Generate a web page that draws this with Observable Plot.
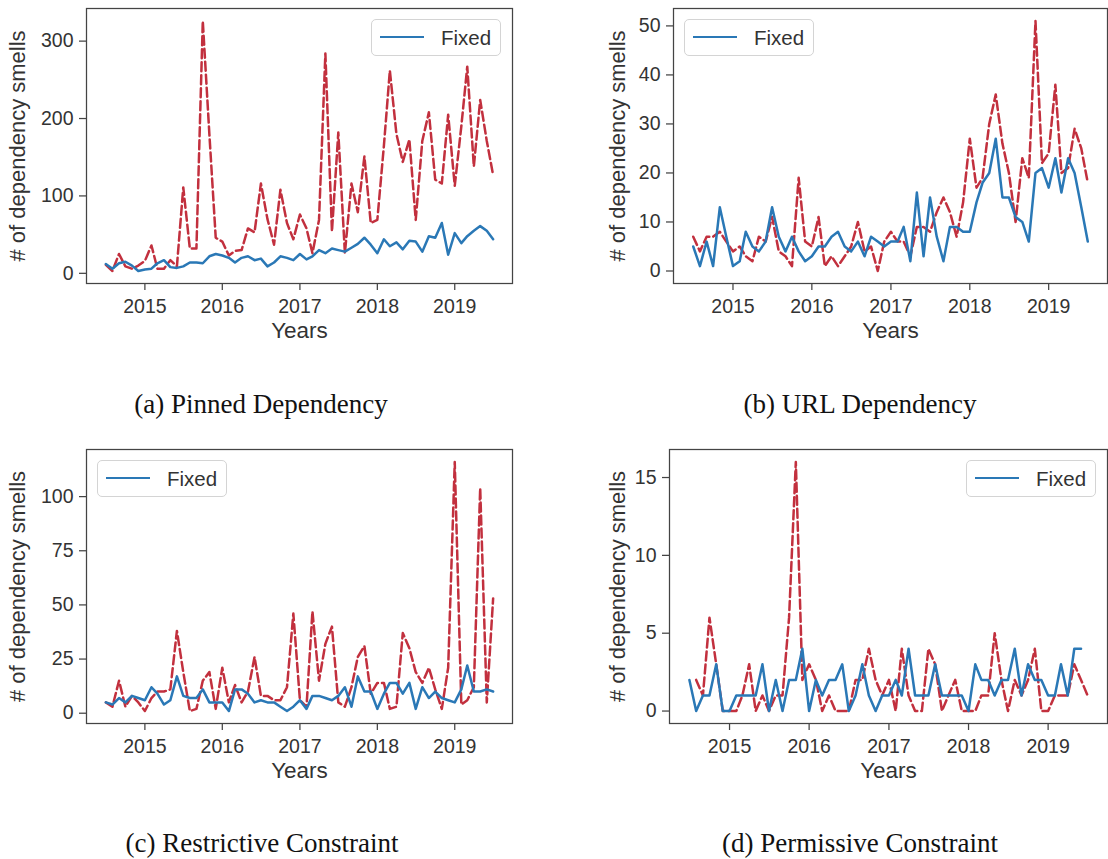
<!DOCTYPE html>
<html>
<head>
<meta charset="utf-8">
<script src="https://cdn.jsdelivr.net/npm/d3@7"></script>
<script src="https://cdn.jsdelivr.net/npm/@observablehq/plot@0.6"></script>
<style>
  body { margin: 0; background: #fff; }
  #fig { position: relative; width: 1108px; height: 859px; overflow: hidden; background: #fff;
         font-family: "Liberation Sans", Arial, sans-serif; }
  .panel { position: absolute; }
  .caption { position: absolute; font-family: "Liberation Serif", "Times New Roman", serif;
             font-size: 27px; color: #111; white-space: nowrap; transform: translate(-50%, -50%); }
  .legend { position: absolute; box-sizing: border-box; width: 130px; height: 37px;
            border: 1px solid #d4d4d4; border-radius: 5px; background: rgba(255,255,255,0.85); }
  .legend .swatch { position: absolute; left: 8px; top: 16px; width: 44px; height: 0;
                    border-top: 2.5px solid #2a78b6; }
  .legend .label { position: absolute; left: 69px; top: 0; line-height: 35px; font-size: 20.5px; color: #333; }
</style>
</head>
<body>
<div id="fig"></div>
<script>
// Monthly counts, July 2014 .. July 2019 (61 months)
const pinnedFixed = [12, 6, 13, 15, 10, 3, 5, 6, 13, 17, 8, 7, 9, 14, 14, 13, 22, 25, 23, 20, 14, 20, 22, 17, 19, 9,
  14, 22, 20, 17, 25, 18, 22, 30, 26, 32, 30, 28, 33, 38, 46, 37, 26, 44, 35, 40, 31, 42, 41, 28, 48, 46, 65, 24,
  52, 39, 48, 55, 61, 55, 44];
const pinnedDetected = [11, 3, 25, 9, 6, 10, 16, 36, 6, 6, 17, 9, 111, 32, 32, 326, 180, 46, 41, 23, 29, 30, 58, 53,
  116, 70, 37, 108, 65, 44, 76, 58, 26, 69, 284, 54, 182, 26, 116, 79, 151, 65, 69, 165, 262, 180, 144, 173, 69,
  171, 208, 121, 116, 205, 113, 190, 267, 138, 224, 171, 127];

const urlFixed = [5, 1, 6, 1, 13, 7, 1, 2, 8, 5, 4, 6, 13, 7, 4, 7, 4, 2, 3, 5, 5, 7, 8, 5, 4, 6, 3, 7, 6, 5, 6, 6,
  9, 2, 16, 3, 15, 7, 2, 9, 9, 8, 8, 14, 18, 20, 27, 15, 15, 11, 10, 6, 20, 21, 17, 23, 16, 23, 20, 13, 6];
const urlDetected = [7, 4, 7, 7, 8, 6, 4, 5, 3, 2, 7, 6, 11, 4, 3, 1, 19, 6, 5, 11, 1, 3, 1, 3, 5, 10, 4, 5, 0, 6,
  8, 6, 6, 3, 9, 9, 8, 12, 15, 12, 7, 14, 27, 17, 19, 30, 36, 26, 20, 10, 23, 19, 51, 22, 24, 38, 20, 21, 29, 25, 18];

const restrictiveFixed = [5, 4, 7, 5, 8, 7, 6, 12, 9, 4, 6, 17, 8, 7, 7, 11, 5, 5, 5, 1, 11, 11, 9, 5, 6, 5, 5, 3,
  1, 3, 6, 2, 8, 8, 7, 6, 8, 12, 3, 17, 10, 10, 2, 9, 14, 14, 9, 14, 2, 12, 7, 10, 7, 6, 5, 11, 22, 10, 10, 11, 10];
const restrictiveDetected = [5, 3, 15, 3, 8, 5, 1, 7, 10, 10, 11, 38, 19, 1, 2, 15, 19, 2, 21, 5, 13, 5, 10, 26, 8,
  8, 6, 6, 12, 46, 6, 3, 47, 15, 32, 40, 5, 3, 12, 26, 31, 9, 14, 14, 2, 3, 37, 30, 19, 14, 21, 11, 2, 21, 116, 4,
  6, 12, 104, 5, 53];

const permissiveFixed = [2, 0, 1, 1, 3, 0, 0, 1, 1, 1, 1, 3, 0, 2, 0, 2, 2, 4, 0, 2, 1, 2, 2, 3, 0, 1, 3, 1, 0, 1,
  1, 2, 1, 4, 1, 1, 1, 3, 1, 1, 1, 1, 0, 3, 2, 2, 1, 2, 2, 4, 1, 3, 2, 2, 1, 1, 3, 1, 4, 4, null];
const permissiveDetected = [null, 2, 1, 6, 3, 0, 0, 0, 1, 3, 0, 1, 0, 1, 1, 6, 16, 2, 3, 2, 0, 1, 0, 0, 0, 2, 2, 4,
  2, 1, 2, 0, 4, 1, 0, 0, 4, 3, 0, 1, 2, 0, 0, 0, 1, 1, 5, 2, 0, 2, 1, 2, 4, 0, 0, 1, 1, 1, 3, 2, 1];

const pinnedTicks = [0, 100, 200, 300];
const urlTicks = [0, 10, 20, 30, 40, 50];
const restrictiveTicks = [0, 25, 50, 75, 100];
const permissiveTicks = [0, 5, 10, 15];
const yearTicks = [2015, 2016, 2017, 2018, 2019];

const captions = ["(a) Pinned Dependency", "(b) URL Dependency", "(c) Restrictive Constraint", "(d) Permissive Constraint"];
const legendLabel = "Fixed";
const xLabel = "Years";
const yLabel = "# of dependency smells";

const months = d3.range(61).map(i => new Date(Date.UTC(2014, 6 + i, 1)));
const yearDates = yearTicks.map(y => new Date(Date.UTC(y, 0, 1)));

const BLUE = "#2a78b6";
const RED = "#c2303e";
const INK = "#333";

const panels = [
  {fixed: pinnedFixed, detected: pinnedDetected, ticks: pinnedTicks, caption: captions[0],
   box: {left: 0, top: 0}, margin: {left: 86, right: 42, top: 8, bottom: 97}, yLabelDx: -69,
   legend: {left: 371, top: 19}, cap: {x: 261, y: 404}},
  {fixed: urlFixed, detected: urlDetected, ticks: urlTicks, caption: captions[1],
   box: {left: 554, top: 0}, margin: {left: 119, right: 1, top: 8, bottom: 97}, yLabelDx: -56,
   legend: {left: 684, top: 19}, cap: {x: 860, y: 404}},
  {fixed: restrictiveFixed, detected: restrictiveDetected, ticks: restrictiveTicks, caption: captions[2],
   box: {left: 0, top: 440}, margin: {left: 86, right: 42, top: 9, bottom: 97}, yLabelDx: -69,
   legend: {left: 97, top: 460}, cap: {x: 262, y: 843}},
  {fixed: permissiveFixed, detected: permissiveDetected, ticks: permissiveTicks, caption: captions[3],
   box: {left: 554, top: 440}, margin: {left: 115, right: 1, top: 9, bottom: 97}, yLabelDx: -52,
   legend: {left: 966, top: 460}, cap: {x: 860, y: 843}}
];

const fig = document.getElementById("fig");
const W = 554, H = 380;

// 5% padding around the data, as in the original axes
function padded(lo, hi) {
  const r = hi - lo;
  return [lo - 0.05 * r, hi + 0.05 * r];
}
const t0 = +months[0], t1 = +months[months.length - 1];
const xDomain = padded(t0, t1).map(t => new Date(t));

for (const p of panels) {
  const fixedRows = months.map((date, i) => ({date, value: p.fixed[i]})).filter(d => d.value != null);
  const detectedRows = months.map((date, i) => ({date, value: p.detected[i]})).filter(d => d.value != null);
  const all = [...fixedRows, ...detectedRows].map(d => d.value);
  const yDomain = padded(d3.min(all), d3.max(all));

  const chart = Plot.plot({
    width: W,
    height: H,
    marginLeft: p.margin.left,
    marginRight: p.margin.right,
    marginTop: p.margin.top,
    marginBottom: p.margin.bottom,
    style: {color: INK, background: "transparent", fontFamily: "'Liberation Sans', Arial, sans-serif", fontSize: "19px", overflow: "visible"},
    x: {type: "utc", domain: xDomain},
    y: {domain: yDomain},
    marks: [
      Plot.line(detectedRows, {x: "date", y: "value", stroke: RED, strokeWidth: 2.5, strokeDasharray: "9,4", strokeLinejoin: "round"}),
      Plot.line(fixedRows, {x: "date", y: "value", stroke: BLUE, strokeWidth: 2.5, strokeLinejoin: "round"}),
      Plot.frame({stroke: "#444", strokeWidth: 1.25}),
      Plot.axisX(yearDates, {label: null, tickFormat: d3.utcFormat("%Y"), tickSize: 7, tickPadding: 9, stroke: "#444", strokeWidth: 1.25, fontSize: 19.5}),
      Plot.axisY(p.ticks, {label: null, tickSize: 7, tickPadding: 6, stroke: "#444", strokeWidth: 1.25, fontSize: 19.5}),
      Plot.text([xLabel], {frameAnchor: "bottom", dy: 54, text: d => d, fontSize: 22.5, fill: INK}),
      Plot.text([yLabel], {frameAnchor: "left", dx: p.yLabelDx, rotate: -90, textAnchor: "middle", text: d => d, fontSize: 22, fill: INK})
    ]
  });
  const holder = document.createElement("div");
  holder.className = "panel";
  holder.style.left = p.box.left + "px";
  holder.style.top = p.box.top + "px";
  holder.appendChild(chart);
  fig.appendChild(holder);

  const lg = document.createElement("div");
  lg.className = "legend";
  lg.style.left = p.legend.left + "px";
  lg.style.top = p.legend.top + "px";
  const sw = document.createElement("div");
  sw.className = "swatch";
  const lb = document.createElement("div");
  lb.className = "label";
  lb.textContent = legendLabel;
  lg.appendChild(sw);
  lg.appendChild(lb);
  fig.appendChild(lg);

  const cap = document.createElement("div");
  cap.className = "caption";
  cap.style.left = p.cap.x + "px";
  cap.style.top = p.cap.y + "px";
  cap.textContent = p.caption;
  fig.appendChild(cap);
}
</script>
</body>
</html>
